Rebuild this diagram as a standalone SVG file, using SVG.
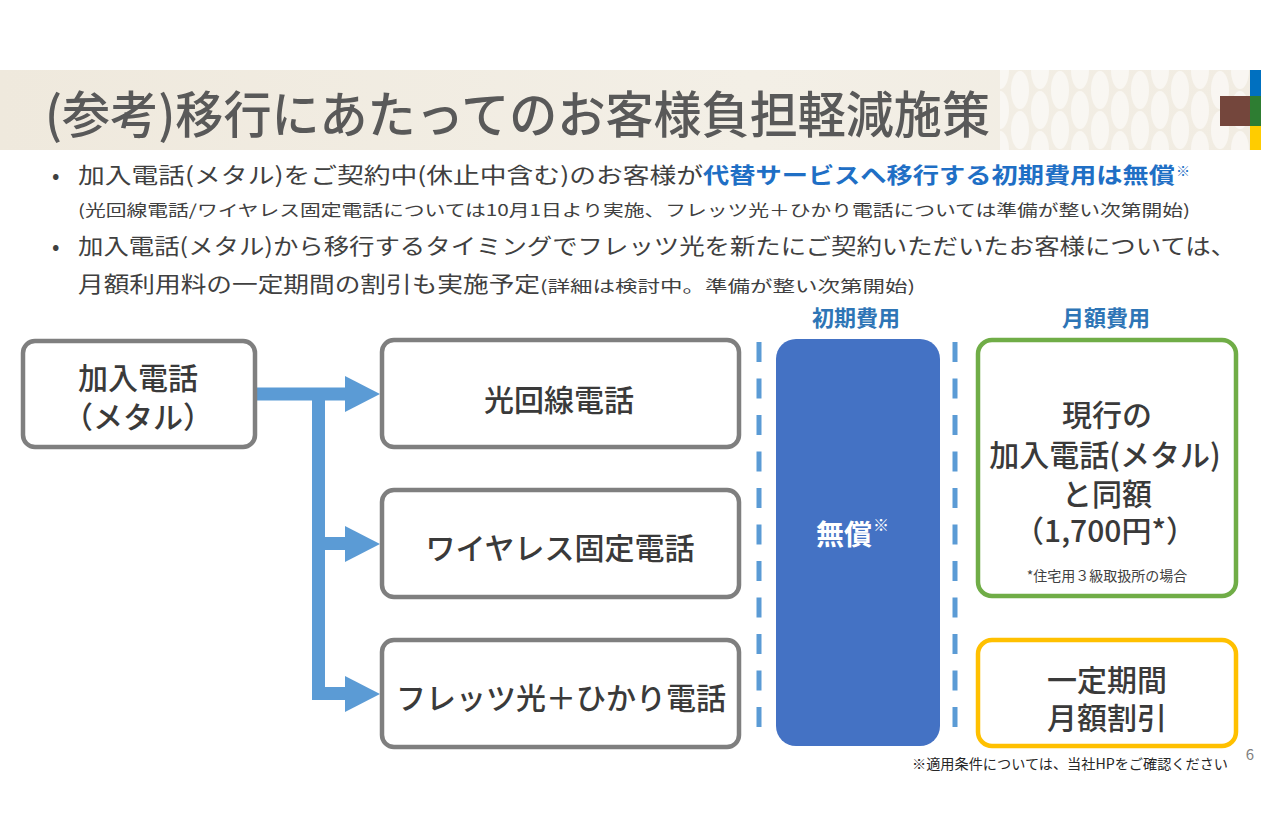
<svg xmlns="http://www.w3.org/2000/svg" width="1261" height="840" viewBox="0 0 1261 840">
<defs>
<style>
text{font-family:"Noto Sans CJK JP","Noto Sans",sans-serif;}
.box{fill:#fff;stroke:#7f7f7f;stroke-width:4.5;}
.lbl{font-size:30px;fill:#3a3a3a;font-weight:500;text-anchor:middle;}
.body{font-size:22px;fill:#404040;}
.small{font-size:16px;fill:#404040;}
.hdr{font-size:22px;fill:#2e75b6;font-weight:bold;text-anchor:middle;}
.conn{fill:none;stroke:#5b9bd5;stroke-width:13;}
.ah{fill:#5b9bd5;}
.dash{stroke:#5b9bd5;stroke-width:5;stroke-dasharray:20 16.5;}
</style>
<linearGradient id="bg" x1="0" y1="0" x2="1" y2="0">
<stop offset="0" stop-color="#efe9dd"/>
<stop offset="0.6" stop-color="#f3efe6"/>
<stop offset="1" stop-color="#f1ece2"/>
</linearGradient>
<pattern id="ptn" x="1000" y="70" width="40" height="40" patternUnits="userSpaceOnUse">
<ellipse cx="20" cy="20" rx="9" ry="19" fill="#ffffff" opacity="0.55"/>
<ellipse cx="0" cy="0" rx="9" ry="19" fill="#ffffff" opacity="0.55"/>
<ellipse cx="40" cy="0" rx="9" ry="19" fill="#ffffff" opacity="0.55"/>
<ellipse cx="0" cy="40" rx="9" ry="19" fill="#ffffff" opacity="0.55"/>
<ellipse cx="40" cy="40" rx="9" ry="19" fill="#ffffff" opacity="0.55"/>
</pattern>
</defs>
<rect width="1261" height="840" fill="#ffffff"/>

<g id="title">
<rect x="0" y="70" width="1250" height="80" fill="url(#bg)"/>
<rect x="1000" y="70" width="250" height="80" fill="url(#ptn)"/>
<text x="45" y="133" font-size="50" fill="#595959" font-weight="500" textLength="945" lengthAdjust="spacingAndGlyphs">(参考)移行にあたってのお客様負担軽減施策</text>
<rect x="1220" y="96" width="30" height="30" fill="#74463c"/>
<rect x="1250" y="70" width="11" height="26" fill="#0070c0"/>
<rect x="1250" y="96" width="11" height="30" fill="#2e7d32"/>
<rect x="1250" y="126" width="11" height="24" fill="#ffcc00"/>
</g>

<g id="bullets">
<text x="52" y="183" class="body">•</text>
<text x="78" y="183" class="body" textLength="625" lengthAdjust="spacingAndGlyphs">加入電話(メタル)をご契約中(休止中含む)のお客様が</text>
<text x="703" y="183" class="body" font-weight="bold" style="fill:#1f6fc5" textLength="472" lengthAdjust="spacingAndGlyphs">代替サービスへ移行する初期費用は無償</text>
<text x="1176" y="176" font-size="14" fill="#1f6fc5">※</text>
<text x="78" y="216" class="small" textLength="1112" lengthAdjust="spacingAndGlyphs">(光回線電話/ワイヤレス固定電話については10月1日より実施、フレッツ光＋ひかり電話については準備が整い次第開始)</text>
<text x="52" y="254" class="body">•</text>
<text x="78" y="254" class="body" textLength="1158" lengthAdjust="spacingAndGlyphs">加入電話(メタル)から移行するタイミングでフレッツ光を新たにご契約いただいたお客様については、</text>
<text x="78" y="292" class="body" textLength="462" lengthAdjust="spacingAndGlyphs">月額利用料の一定期間の割引も実施予定</text>
<text x="540" y="292" class="small" textLength="375" lengthAdjust="spacingAndGlyphs">(詳細は検討中。準備が整い次第開始)</text>
</g>

<g id="connectors">
<path class="conn" d="M255 394 H346 M318.5 394 V700 M318 543.5 H346 M318 693.5 H346"/>
<polygon class="ah" points="345,376 380,394 345,412"/>
<polygon class="ah" points="345,526 380,544 345,562"/>
<polygon class="ah" points="345,676 380,694 345,712"/>
<line class="dash" x1="759" y1="342" x2="759" y2="740"/>
<line class="dash" x1="955" y1="342" x2="955" y2="740"/>
</g>

<g id="node-metal">
<rect class="box" x="23" y="341" width="232" height="106" rx="12"/>
<text class="lbl" x="138" y="389">加入電話</text>
<text class="lbl" x="138" y="428">（メタル）</text>
</g>
<g id="node-hikari">
<rect class="box" x="382" y="340" width="357" height="107" rx="12"/>
<text class="lbl" x="559" y="411">光回線電話</text>
</g>
<g id="node-wireless">
<rect class="box" x="382" y="490" width="357" height="107" rx="12"/>
<text class="lbl" x="560" y="559">ワイヤレス固定電話</text>
</g>
<g id="node-flets">
<rect class="box" x="382" y="640" width="357" height="107" rx="12"/>
<text class="lbl" x="561" y="709">フレッツ光＋ひかり電話</text>
</g>

<g id="header-initial">
<text class="hdr" x="856" y="326">初期費用</text>
</g>
<g id="header-monthly">
<text class="hdr" x="1106" y="326">月額費用</text>
</g>

<g id="node-free">
<rect x="776" y="339" width="164" height="407" rx="20" fill="#4472c4"/>
<text x="816" y="545" font-size="28" fill="#ffffff" font-weight="bold">無償</text>
<text x="873" y="531" font-size="16" fill="#ffffff">※</text>
</g>

<g id="node-same">
<rect x="978" y="340" width="258" height="256" rx="14" fill="#fff" stroke="#70ad47" stroke-width="4.5"/>
<text class="lbl" x="1107" y="426">現行の</text>
<text class="lbl" x="1105" y="466">加入電話(メタル)</text>
<text class="lbl" x="1107" y="505">と同額</text>
<text class="lbl" x="1105" y="542">（1,700円*）</text>
<text x="1107" y="581" font-size="14" fill="#404040" text-anchor="middle">*住宅用３級取扱所の場合</text>
</g>

<g id="node-discount">
<rect x="978" y="640" width="258" height="106" rx="14" fill="#fff" stroke="#ffc000" stroke-width="4.5"/>
<text class="lbl" x="1107" y="691">一定期間</text>
<text class="lbl" x="1107" y="729">月額割引</text>
</g>

<g id="footer">
<text x="912" y="769" font-size="14" fill="#262626" textLength="316" lengthAdjust="spacingAndGlyphs">※適用条件については、当社HPをご確認ください</text>
<text x="1250" y="760" font-size="15" fill="#7f7f7f" text-anchor="middle">6</text>
</g>
</svg>
